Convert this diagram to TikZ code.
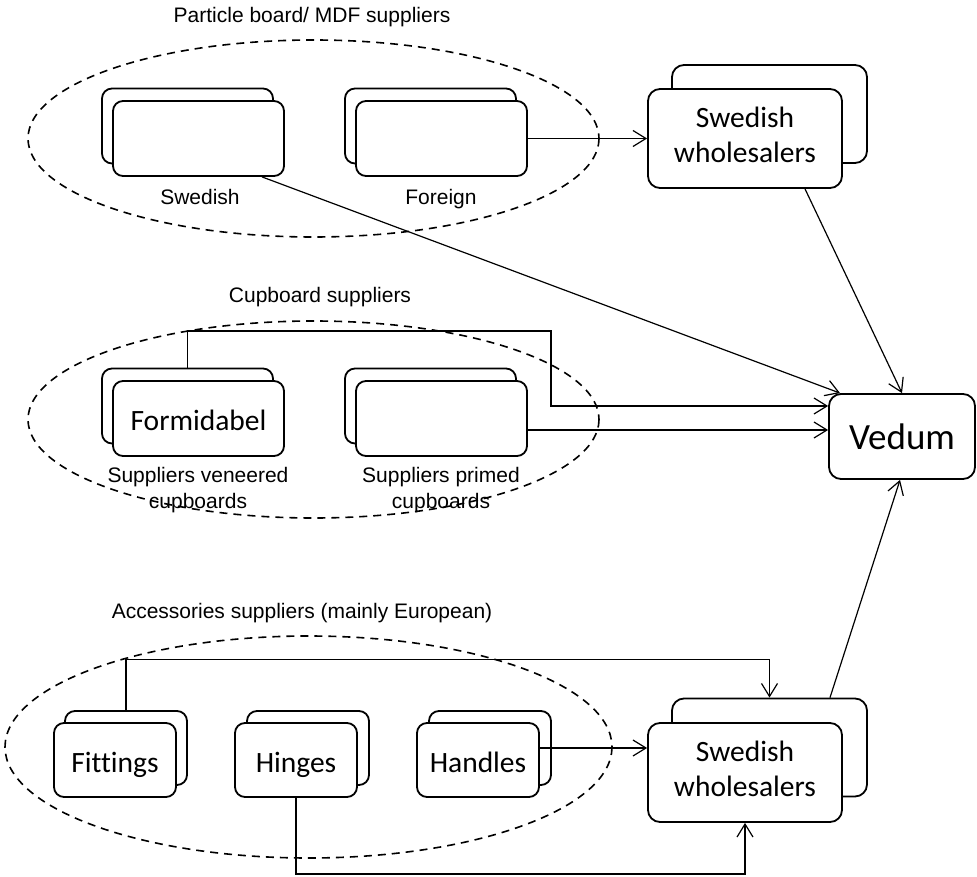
\documentclass[tikz,border=0pt]{standalone}
\usepackage{fontspec}
\setmainfont{Liberation Sans}
\newfontfamily\carfont[Ligatures=NoCommon]{Carlito}
\usetikzlibrary{arrows.meta}
\begin{document}
\begin{tikzpicture}[x=1pt,y=-1pt,
  lbl/.style={font=\fontsize{21}{26}\selectfont, align=center, inner sep=0pt},
  blbl/.style={lbl, anchor=base},
  sbox/.style={draw, line width=1.8pt, rounded corners=10pt, fill=white, minimum width=171pt, minimum height=75pt, inner sep=0pt, text height=26pt, text depth=2pt, font=\carfont\fontsize{29.5}{35}\selectfont},
  fbox/.style={sbox, minimum width=122pt, minimum height=74pt},
  wbox/.style={draw, line width=1.8pt, rounded corners=12pt, fill=white, minimum width=194pt, minimum height=99pt, inner sep=0pt, align=center, font=\carfont\fontsize{29.5}{35}\selectfont},
  grp/.style={draw, line width=1.6pt, dash pattern=on 8pt off 6pt},
  arr/.style={line width=1.2pt, -{Straight Barb[length=13pt,width=16pt,line width=1.2pt]}}
]
\useasboundingbox (0,0) rectangle (977,877);

% group ellipses
\draw[grp] (313.5,138.5) ellipse [x radius=285.5, y radius=98.5];
\draw[grp] (313.5,419.5) ellipse [x radius=285.5, y radius=98.5];
\draw[grp] (308.5,747) ellipse [x radius=303.5, y radius=111];

% group labels
\node[blbl] (t1) at (312,22.5) {Particle board/ MDF suppliers};
\node[blbl] (t2) at (320,302.5) {Cupboard suppliers};
\node[blbl] (t3) at (302,618.5) {Accessories suppliers (mainly European)};

% top row boxes
\node[sbox] (swb) at (187.5,126) {};
\node[sbox] (sw) at (198.5,138.5) {};
\node[sbox] (fob) at (430.5,126) {};
\node[sbox] (fo) at (441.5,138.5) {};
\node[blbl] (swl) at (200,204.5) {Swedish};
\node[blbl] (fol) at (441,204.5) {Foreign};

\node[wbox, minimum width=195pt, minimum height=98pt] (wh1b) at (769.5,114) {};
\node[wbox] (wh1) at (745,138.5) {Swedish\\wholesalers\\[-27pt]\mbox{}};

% Vedum
\node[draw, line width=1.8pt, rounded corners=12pt, fill=white, minimum width=146pt, minimum height=85pt, inner sep=0pt, font=\carfont\fontsize{37}{44}\selectfont] (ved) at (902,436.5) {Vedum};

% middle row boxes
\node[sbox] (frb) at (187.5,406) {};
\node[sbox] (fr) at (198.5,418.5) {Formidabel};
\node[sbox] (prb) at (430.5,406) {};
\node[sbox] (pr) at (441.5,418.5) {};
\node[lbl] (frl) at (198,490) {Suppliers veneered\\cupboards};
\node[lbl] (prl) at (441,490) {Suppliers primed\\cupboards};

% bottom row boxes
\node[fbox] (fitb) at (126,748) {};
\node[fbox] (fit) at (115,760) {Fittings};
\node[fbox] (hinb) at (308,748) {};
\node[fbox] (hin) at (296,760) {Hinges};
\node[fbox] (hanb) at (490,748) {};
\node[fbox] (han) at (478,760) {Handles};

\node[wbox, minimum width=195pt, minimum height=98pt] (wh2b) at (769.5,747.5) {};
\node[wbox] (wh2) at (745,772.5) {Swedish\\wholesalers\\[-27pt]\mbox{}};

% connectors
\draw[arr] (fo.east) -- (wh1.west);
\draw[arr] ([xshift=63.5pt]sw.south) -- ([xshift=-62pt]ved.north);
\draw[arr] ([xshift=60pt]wh1.south) -- (ved.north);

\coordinate (c1) at (551,331);
\draw[arr] (frb.north) |- (c1) |- ([yshift=30.5pt]ved.west);
\draw[arr] ([yshift=-11.5pt]pr.east) -- ([yshift=-11.5pt]pr.east -| ved.west);

\draw[arr] (fitb.north) -- ++(0,-51) -| (wh2b.north);
\draw[arr] ([yshift=12pt]han.east) -- ([yshift=12pt]han.east -| wh2.west);
\draw[arr] (hin.south) -- ++(0,76) -| (wh2.south);
\draw[arr] ([xshift=60.5pt]wh2b.north) -- ([xshift=-2pt]ved.south);
\end{tikzpicture}
\end{document}
